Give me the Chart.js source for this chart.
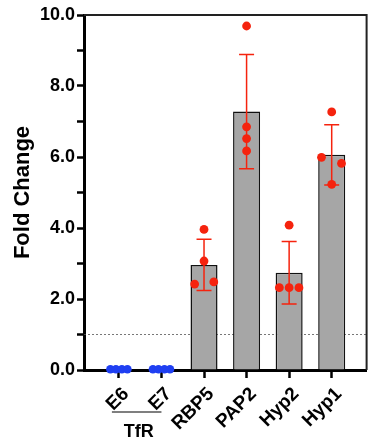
<!DOCTYPE html>
<html>
<head>
<meta charset="utf-8">
<script src="https://cdn.jsdelivr.net/npm/chart.js@4"></script>
<style>
  html, body { margin: 0; padding: 0; background: #fff; }
  #wrap { width: 371px; height: 438px; }
</style>
</head>
<body>
<div id="wrap"><canvas id="myChart" width="371" height="438"></canvas></div>
<script>
// data
const categories = ["E6", "E7", "RBP5", "PAP2", "Hyp2", "Hyp1"];
const meanValues = [0, 0, 2.96, 7.28, 2.74, 6.06];
const sdValues = [0, 0, 0.72, 1.61, 0.88, 0.85];
const replicates = [
    [0.02, 0.02, 0.02, 0.02],
    [0.02, 0.02, 0.02, 0.02],
    [3.96, 3.07, 2.42, 2.48],
    [9.69, 6.85, 6.52, 6.17],
    [4.08, 2.32, 2.32, 2.32],
    [7.27, 5.99, 5.82, 5.23]
];
// horizontal scatter of the replicate dots, in category units
const jitter = [
    [-0.2, -0.07, 0.07, 0.2],
    [-0.2, -0.07, 0.07, 0.2],
    [0, 0, -0.22, 0.23],
    [0, 0, 0, 0],
    [0, -0.23, 0, 0.23],
    [0, -0.24, 0.23, 0]
];
const yTickLabels = [0, 2, 4, 6, 8, 10];
const refLine = 1.0;
const groupLabel = "TfR";
const groupMembers = [0, 1];

const RED = "#f5230e";
const BLUE = "#1f3ff2";
const FONT = "'Liberation Sans', Arial, Helvetica, sans-serif";

const barData = categories.map((c, i) => ({ x: i, y: meanValues[i] }));

function pointsFor(idxs) {
    const pts = [];
    idxs.forEach(i => {
        replicates[i].forEach((v, k) => pts.push({ x: i + jitter[i][k], y: v }));
    });
    return pts;
}

const extras = {
    id: "extras",
    beforeDatasetsDraw(chart) {
        const { ctx, chartArea, scales } = chart;
        const y = scales.y.getPixelForValue(refLine);
        ctx.save();
        ctx.strokeStyle = "#555";
        ctx.lineWidth = 0.8;
        ctx.setLineDash([2, 2]);
        ctx.beginPath();
        ctx.moveTo(chartArea.left, y);
        ctx.lineTo(chartArea.right, y);
        ctx.stroke();
        ctx.restore();
    },
    afterDatasetDraw(chart, args) {
        if (args.index !== 0) return;
        const { ctx, scales } = chart;
        ctx.save();
        ctx.strokeStyle = RED;
        ctx.lineWidth = 1.5;
        meanValues.forEach((m, i) => {
            if (!sdValues[i]) return;
            const x = scales.x.getPixelForValue(i);
            const yt = scales.y.getPixelForValue(m + sdValues[i]);
            const yb = scales.y.getPixelForValue(m - sdValues[i]);
            ctx.beginPath();
            ctx.moveTo(x, yt); ctx.lineTo(x, yb);
            ctx.moveTo(x - 7.5, yt); ctx.lineTo(x + 7.5, yt);
            ctx.moveTo(x - 7.5, yb); ctx.lineTo(x + 7.5, yb);
            ctx.stroke();
        });
        ctx.restore();
    },
    afterDraw(chart) {
        const { ctx, chartArea, scales } = chart;
        ctx.save();
        // frame top and right
        ctx.strokeStyle = "#222";
        ctx.lineWidth = 2;
        ctx.beginPath();
        ctx.moveTo(chartArea.left, chartArea.top);
        ctx.lineTo(chartArea.right, chartArea.top);
        ctx.lineTo(chartArea.right, chartArea.bottom);
        ctx.stroke();
        // group bracket under E6 / E7
        const x0 = scales.x.getPixelForValue(groupMembers[0]) - 7;
        const x1 = scales.x.getPixelForValue(groupMembers[1]);
        ctx.strokeStyle = "#000";
        ctx.lineWidth = 1.2;
        ctx.beginPath();
        ctx.moveTo(x0, 412);
        ctx.lineTo(x1, 412);
        ctx.stroke();
        ctx.fillStyle = "#000";
        ctx.font = "bold 18px " + FONT;
        ctx.textAlign = "center";
        ctx.textBaseline = "alphabetic";
        ctx.fillText(groupLabel, (x0 + x1) / 2 + 2, 437);
        ctx.restore();
    }
};

const ctx = document.getElementById("myChart").getContext("2d");
new Chart(ctx, {
    type: "bar",
    data: {
        datasets: [
            {
                label: "mean",
                data: barData,
                backgroundColor: "#a6a6a6",
                borderColor: "#111",
                borderWidth: 1.5,
                categoryPercentage: 1,
                barPercentage: 0.635,
                order: 2
            },
            {
                type: "scatter",
                label: "TfR",
                data: pointsFor([0, 1]),
                backgroundColor: BLUE,
                borderWidth: 0,
                pointRadius: 4.3,
                clip: false,
                order: 1
            },
            {
                type: "scatter",
                label: "targets",
                data: pointsFor([2, 3, 4, 5]),
                backgroundColor: RED,
                borderWidth: 0,
                pointRadius: 4.4,
                clip: false,
                order: 1
            }
        ]
    },
    options: {
        responsive: false,
        animation: false,
        layout: { padding: { top: 15, right: 4, left: 0, bottom: 0 } },
        plugins: {
            legend: { display: false },
            tooltip: { enabled: false }
        },
        scales: {
            x: {
                type: "linear",
                min: -0.82,
                max: 5.82,
                offset: false,
                afterBuildTicks: s => { s.ticks = categories.map((c, i) => ({ value: i })); },
                afterFit: s => { s.height = 68; },
                grid: {
                    offset: false,
                    drawOnChartArea: false,
                    tickLength: 8,
                    tickWidth: 2.5,
                    tickColor: "#000"
                },
                border: { color: "#000", width: 3 },
                ticks: {
                    autoSkip: false,
                    maxRotation: 45,
                    minRotation: 45,
                    padding: 5,
                    labelOffset: 7,
                    color: "#000",
                    font: { family: FONT, size: 19, weight: "bold" },
                    callback: v => categories[v]
                }
            },
            y: {
                min: 0,
                max: 10,
                afterFit: s => { s.width = 84; },
                grid: {
                    drawOnChartArea: false,
                    tickLength: 7,
                    tickWidth: 2.5,
                    tickColor: "#000"
                },
                border: { color: "#000", width: 3 },
                ticks: {
                    stepSize: 1,
                    padding: 2,
                    color: "#000",
                    font: { family: FONT, size: 18, weight: "bold" },
                    callback: v => yTickLabels.includes(v) ? v.toFixed(1) : ""
                },
                title: {
                    display: true,
                    text: "Fold Change",
                    color: "#000",
                    font: { family: FONT, size: 22, weight: "bold" },
                    padding: { top: 10, bottom: 0 }
                }
            }
        }
    },
    plugins: [extras]
});
</script>
</body>
</html>
